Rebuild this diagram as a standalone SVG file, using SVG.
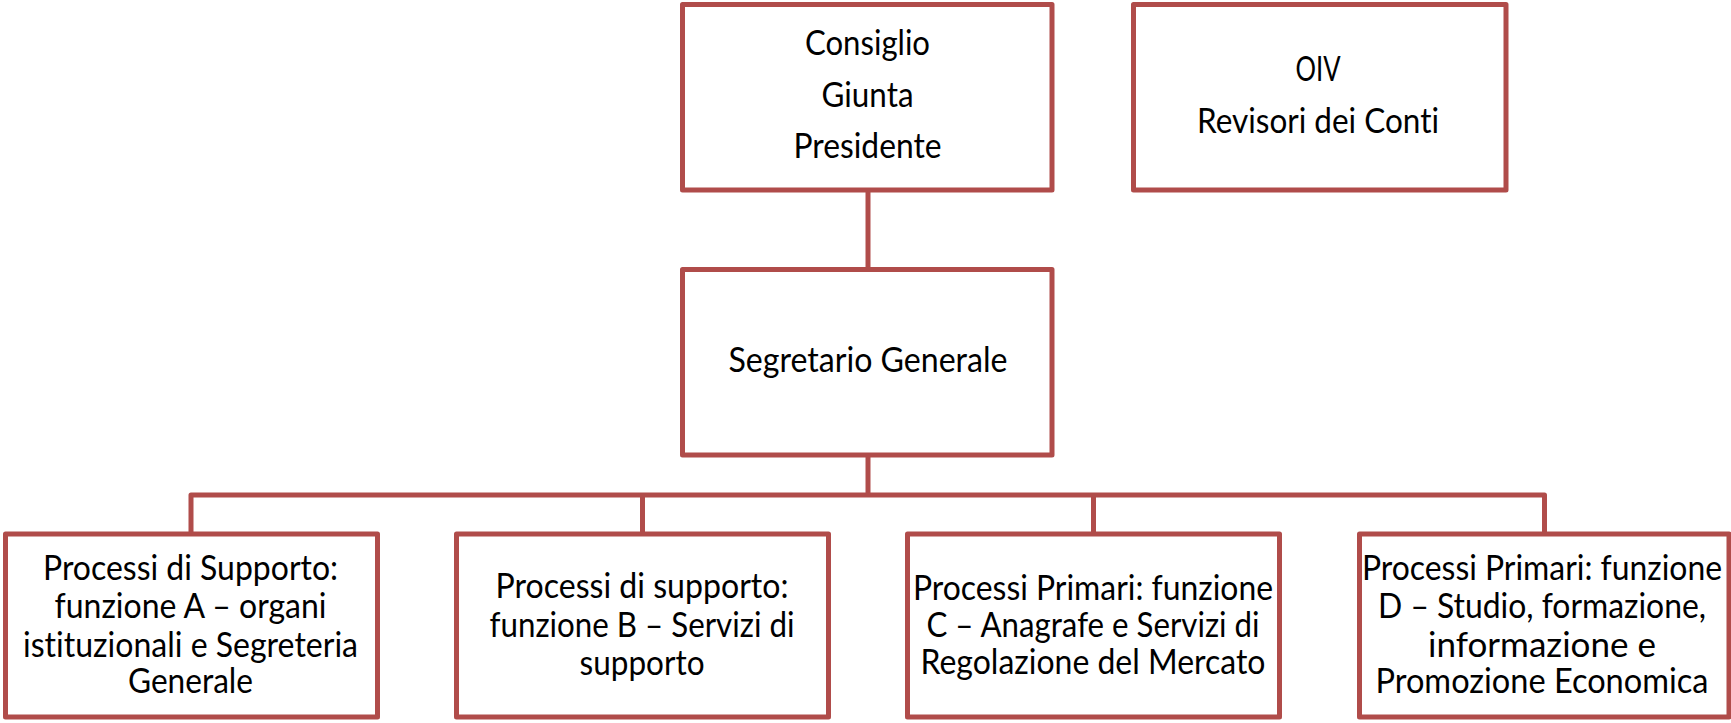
<svg xmlns="http://www.w3.org/2000/svg" width="1731" height="723" viewBox="0 0 1731 723">
<style>
.box{fill:#fff;stroke:#B04C4A;stroke-width:5;stroke-linejoin:round}
.conn{fill:none;stroke:#B04C4A;stroke-width:5;stroke-linejoin:round}
text{font-family:Lato,"Open Sans","Liberation Sans",sans-serif;font-size:34px;fill:#000;text-anchor:middle;font-variant-ligatures:none;font-feature-settings:"liga" 0}
</style>
<rect width="1731" height="723" fill="#fff"/>
<g id="connectors">
<line class="conn" x1="868" y1="190" x2="868" y2="270"/>
<line class="conn" x1="868" y1="455" x2="868" y2="495"/>
<path class="conn" d="M191,534 V495 H1544.5 V534"/>
<line class="conn" x1="642.5" y1="495" x2="642.5" y2="534"/>
<line class="conn" x1="1093.5" y1="495" x2="1093.5" y2="534"/>
</g>
<g id="consiglio">
<rect class="box" x="682.5" y="4.5" width="369.5" height="185.5"/>
<text x="867.5" y="55" textLength="125" lengthAdjust="spacingAndGlyphs">Consiglio</text>
<text x="867.5" y="107" textLength="92" lengthAdjust="spacingAndGlyphs">Giunta</text>
<text x="867.5" y="158" textLength="148" lengthAdjust="spacingAndGlyphs">Presidente</text>
</g>
<g id="oiv">
<rect class="box" x="1133.5" y="4.5" width="372.5" height="185.5"/>
<text x="1318" y="81" textLength="45" lengthAdjust="spacingAndGlyphs">OIV</text>
<text x="1318" y="133" textLength="242" lengthAdjust="spacingAndGlyphs">Revisori dei Conti</text>
</g>
<g id="segretario">
<rect class="box" x="682.5" y="269.5" width="369.5" height="185.5"/>
<text x="868" y="372" textLength="279" lengthAdjust="spacingAndGlyphs">Segretario Generale</text>
</g>
<g id="funzioneA">
<rect class="box" x="5.5" y="534" width="372" height="183"/>
<text x="190.5" y="580" textLength="295" lengthAdjust="spacingAndGlyphs">Processi di Supporto:</text>
<text x="190.5" y="618" textLength="272" lengthAdjust="spacingAndGlyphs">funzione A – organi</text>
<text x="190.5" y="657" textLength="335" lengthAdjust="spacingAndGlyphs">istituzionali e Segreteria</text>
<text x="190.5" y="693" textLength="125" lengthAdjust="spacingAndGlyphs">Generale</text>
</g>
<g id="funzioneB">
<rect class="box" x="456.5" y="534" width="372" height="183"/>
<text x="642" y="598" textLength="293" lengthAdjust="spacingAndGlyphs">Processi di supporto:</text>
<text x="642" y="637" textLength="305" lengthAdjust="spacingAndGlyphs">funzione B – Servizi di</text>
<text x="642" y="675" textLength="125" lengthAdjust="spacingAndGlyphs">supporto</text>
</g>
<g id="funzioneC">
<rect class="box" x="907.5" y="534" width="372" height="183"/>
<text x="1093" y="600" textLength="360" lengthAdjust="spacingAndGlyphs">Processi Primari: funzione</text>
<text x="1093" y="637" textLength="333" lengthAdjust="spacingAndGlyphs">C – Anagrafe e Servizi di</text>
<text x="1093" y="674" textLength="345" lengthAdjust="spacingAndGlyphs">Regolazione del Mercato</text>
</g>
<g id="funzioneD">
<rect class="box" x="1359.5" y="534" width="369.5" height="183"/>
<text x="1542" y="580" textLength="360" lengthAdjust="spacingAndGlyphs">Processi Primari: funzione</text>
<text x="1542" y="618" textLength="328" lengthAdjust="spacingAndGlyphs">D – Studio, formazione,</text>
<text x="1542" y="657" textLength="228" lengthAdjust="spacingAndGlyphs">informazione e</text>
<text x="1542" y="693" textLength="333" lengthAdjust="spacingAndGlyphs">Promozione Economica</text>
</g>
</svg>
